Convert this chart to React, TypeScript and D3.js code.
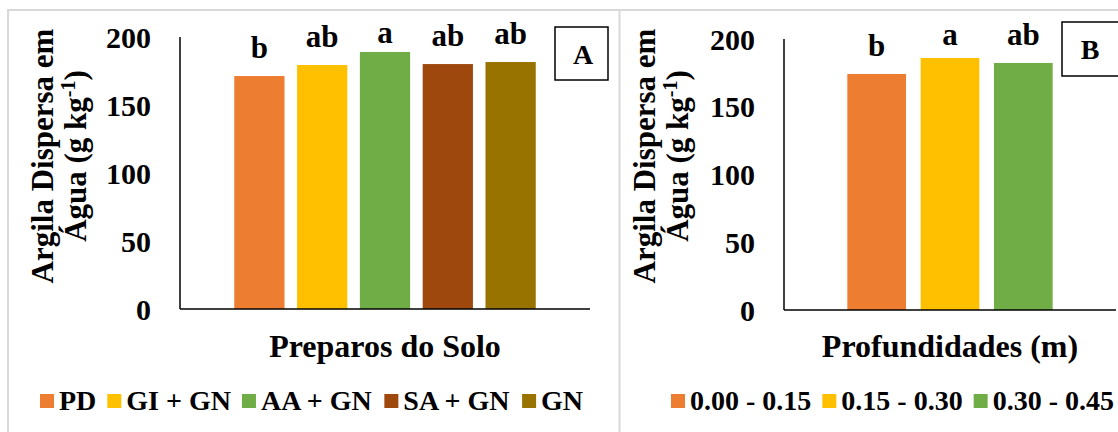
import React from "react";
import * as d3 from "d3";

// ---- Data ----
const yTicks = [0, 50, 100, 150, 200];

const preparoCategories = ["PD", "GI + GN", "AA + GN", "SA + GN", "GN"];
const preparoValues = [171.3, 179.4, 189.0, 180.1, 181.6];
const preparoLetters = ["b", "ab", "a", "ab", "ab"];
const preparoColors = ["#ED7D31", "#FFC000", "#70AD47", "#9E480E", "#997300"];

const profCategories = ["0.00 - 0.15", "0.15 - 0.30", "0.30 - 0.45"];
const profValues = [174.2, 186.0, 182.3];
const profLetters = ["b", "a", "ab"];
const profColors = ["#ED7D31", "#FFC000", "#70AD47"];

const FONT = "'Liberation Serif', 'Times New Roman', Times, serif";

function measure(text: string, size: number): number {
  const c = document.createElement("canvas");
  const ctx = c.getContext("2d");
  if (!ctx) return text.length * size * 0.5;
  ctx.font = `bold ${size}px ${FONT}`;
  return ctx.measureText(text).width;
}

type PanelProps = {
  categories: string[];
  values: number[];
  letters: string[];
  colors: string[];
  plotX0: number;
  plotX1: number;
  plotY0: number;
  plotY1: number;
  yTitleX1: number;
  yTitleX2: number;
  xTitle: string;
  boxLabel: string;
  box: { x: number; y: number; w: number; h: number; ty: number };
  legendX: number;
};

function Panel(p: PanelProps) {
  const y = d3.scaleLinear().domain([0, 200]).range([p.plotY1, p.plotY0]);
  const group = d3
    .scaleBand<string>()
    .domain(p.categories)
    .range([p.plotX0, p.plotX1])
    .paddingInner(0.2)
    .paddingOuter(0.864);
  const cx = (p.plotX0 + p.plotX1) / 2;
  const yMid = 156;

  // legend layout
  const lgSize = 28;
  const sq = 14;
  let cursor = p.legendX;
  const legendItems = p.categories.map((c, i) => {
    const x = cursor;
    const w = measure(c, lgSize);
    cursor += sq + 5 + w + 11;
    return { c, x, color: p.colors[i] };
  });

  return (
    <g>
      {/* Y axis title */}
      <text
        transform={`translate(${p.yTitleX1},${yMid}) rotate(-90)`}
        textAnchor="middle"
        fontFamily={FONT}
        fontWeight="bold"
        fontSize={31}
        fill="#000"
      >
        Argila Dispersa em
      </text>
      <text
        transform={`translate(${p.yTitleX2},${yMid}) rotate(-90)`}
        textAnchor="middle"
        fontFamily={FONT}
        fontWeight="bold"
        fontSize={31}
        fill="#000"
      >
        Água (g kg
        <tspan fontSize={20} dy={-11}>
          -1
        </tspan>
        <tspan dy={11}>)</tspan>
      </text>

      {/* Tick labels */}
      {yTicks.map((t) => (
        <text
          key={t}
          x={p.plotX0 - 29}
          y={y(t)}
          dy="0.35em"
          textAnchor="end"
          fontFamily={FONT}
          fontWeight="bold"
          fontSize={30}
          fill="#000"
        >
          {t}
        </text>
      ))}

      {/* Bars */}
      {p.categories.map((c, i) => (
        <rect
          key={c}
          x={group(c)}
          y={y(p.values[i])}
          width={group.bandwidth()}
          height={y(0) - y(p.values[i])}
          fill={p.colors[i]}
        />
      ))}

      {/* Letters */}
      {p.categories.map((c, i) => (
        <text
          key={c + "l"}
          x={(group(c) as number) + group.bandwidth() / 2}
          y={Math.max(y(p.values[i]) - 18, y(200) + 6)}
          textAnchor="middle"
          fontFamily={FONT}
          fontWeight="bold"
          fontSize={31}
          fill="#000"
        >
          {p.letters[i]}
        </text>
      ))}

      {/* Axes */}
      <line x1={p.plotX0} x2={p.plotX0} y1={y(200)} y2={y(0)} stroke="#000" strokeWidth={1.5} />
      <line x1={p.plotX0} x2={p.plotX1} y1={y(0)} y2={y(0)} stroke="#000" strokeWidth={1.5} />

      {/* X title */}
      <text
        x={cx}
        y={357}
        textAnchor="middle"
        fontFamily={FONT}
        fontWeight="bold"
        fontSize={32}
        fill="#000"
      >
        {p.xTitle}
      </text>

      {/* Panel label box */}
      <rect
        x={p.box.x}
        y={p.box.y}
        width={p.box.w}
        height={p.box.h}
        fill="#fff"
        stroke="#000"
        strokeWidth={1.5}
      />
      <text
        x={p.box.x + 28}
        y={p.box.ty}
        textAnchor="middle"
        fontFamily={FONT}
        fontWeight="bold"
        fontSize={28}
        fill="#000"
      >
        {p.boxLabel}
      </text>

      {/* Legend */}
      {legendItems.map((it) => (
        <g key={it.c}>
          <rect x={it.x} y={394} width={sq} height={sq} fill={it.color} />
          <text
            x={it.x + sq + 5}
            y={410}
            fontFamily={FONT}
            fontWeight="bold"
            fontSize={lgSize}
            fill="#000"
          >
            {it.c}
          </text>
        </g>
      ))}
    </g>
  );
}

export default function App() {
  return (
    <svg
      width={1118}
      height={432}
      viewBox="0 0 1118 432"
      style={{ position: "absolute", left: 0, top: 0, background: "#fff" }}
    >
      <rect x={0} y={0} width={1118} height={432} fill="#fff" />
      {/* panel borders */}
      <line x1={7} x2={1118} y1={10} y2={10} stroke="#d9d9d9" strokeWidth={2} />
      <line x1={8} x2={8} y1={9} y2={432} stroke="#d9d9d9" strokeWidth={2} />
      <line x1={619.5} x2={619.5} y1={9} y2={432} stroke="#d9d9d9" strokeWidth={2} />

      <Panel
        categories={preparoCategories}
        values={preparoValues}
        letters={preparoLetters}
        colors={preparoColors}
        plotX0={180}
        plotX1={590}
        plotY0={37}
        plotY1={309}
        yTitleX1={53}
        yTitleX2={86}
        xTitle="Preparos do Solo"
        boxLabel="A"
        box={{ x: 555, y: 27, w: 53, h: 53, ty: 64 }}
        legendX={40}
      />
      <Panel
        categories={profCategories}
        values={profValues}
        letters={profLetters}
        colors={profColors}
        plotX0={784}
        plotX1={1116}
        plotY0={39}
        plotY1={310}
        yTitleX1={655}
        yTitleX2={688}
        xTitle="Profundidades (m)"
        boxLabel="B"
        box={{ x: 1062, y: 22, w: 60, h: 54, ty: 59 }}
        legendX={671}
      />
    </svg>
  );
}
